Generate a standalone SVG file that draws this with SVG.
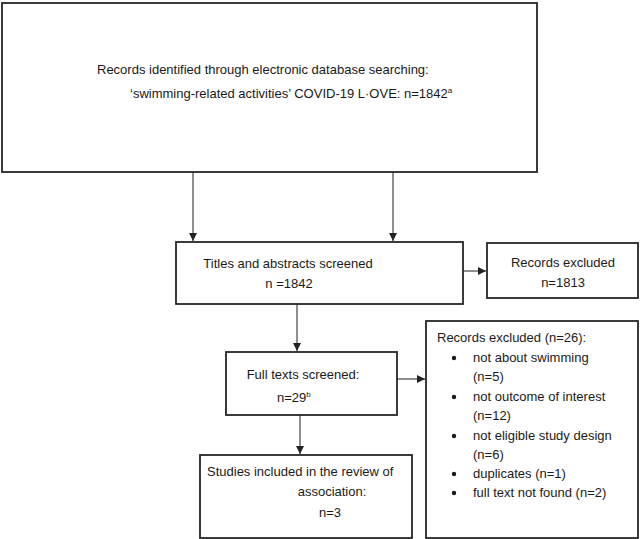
<svg xmlns="http://www.w3.org/2000/svg" width="640" height="539" viewBox="0 0 640 539">
<style>
.box{fill:#fff;stroke:#262626;stroke-width:1.8}
.t{font-family:"Liberation Sans",Arial,sans-serif;font-size:13px;fill:#1a1a1a}
.c{text-anchor:middle}
.sup{font-size:8px}
.ln{stroke:#444;stroke-width:1.2;fill:none}
</style>
<defs>
<marker id="ah" viewBox="0 0 10 10" refX="10" refY="5" markerWidth="8" markerHeight="8" markerUnits="userSpaceOnUse" orient="auto">
<path d="M0,0 L10,5 L0,10 z" fill="#222"/>
</marker>
</defs>
<g id="connectors">
<line class="ln" x1="193" y1="172" x2="193" y2="241" marker-end="url(#ah)"/>
<line class="ln" x1="393" y1="172" x2="393" y2="241" marker-end="url(#ah)"/>
<line class="ln" x1="463" y1="271" x2="486" y2="271" marker-end="url(#ah)"/>
<line class="ln" x1="297" y1="304" x2="297" y2="351" marker-end="url(#ah)"/>
<line class="ln" x1="300" y1="415" x2="300" y2="454" marker-end="url(#ah)"/>
<line class="ln" x1="397" y1="379" x2="425" y2="379" marker-end="url(#ah)"/>
</g>
<g id="records-identified">
<rect class="box" x="2" y="3" width="535" height="169"/>
<text class="t" x="97" y="74">Records identified through electronic database searching:</text>
<text class="t" x="130" y="98">‘swimming-related activities’ COVID-19 L·OVE: n=1842<tspan class="sup" dy="-5">a</tspan></text>
</g>
<g id="titles-abstracts">
<rect class="box" x="176" y="242" width="287" height="62"/>
<text class="t" x="288" y="268" text-anchor="middle">Titles and abstracts screened</text>
<text class="t" x="289" y="288" text-anchor="middle">n =1842</text>
</g>
<g id="records-excluded-1">
<rect class="box" x="487" y="243" width="151" height="55"/>
<text class="t c" x="563" y="267">Records excluded</text>
<text class="t c" x="563" y="287">n=1813</text>
</g>
<g id="full-texts">
<rect class="box" x="226" y="352" width="171" height="63"/>
<text class="t c" x="303" y="379">Full texts screened:</text>
<text class="t" x="277" y="402">n=29<tspan class="sup" dy="-5">b</tspan></text>
</g>
<g id="studies-included">
<rect class="box" x="200" y="455" width="212" height="83"/>
<text class="t" x="207" y="476">Studies included in the review of</text>
<text class="t c" x="332" y="496">association:</text>
<text class="t c" x="330" y="517">n=3</text>
</g>
<g id="records-excluded-2">
<rect class="box" x="426" y="321" width="212" height="217"/>
<text class="t" x="437" y="342">Records excluded (n=26):</text>
<g fill="#1a1a1a">
<circle cx="454" cy="358" r="2.2"/>
<circle cx="454" cy="397" r="2.2"/>
<circle cx="454" cy="436" r="2.2"/>
<circle cx="454" cy="474" r="2.2"/>
<circle cx="454" cy="493" r="2.2"/>
</g>
<text class="t" x="473" y="362">not about swimming</text>
<text class="t" x="473" y="381">(n=5)</text>
<text class="t" x="473" y="401">not outcome of interest</text>
<text class="t" x="473" y="420">(n=12)</text>
<text class="t" x="473" y="440">not eligible study design</text>
<text class="t" x="473" y="459">(n=6)</text>
<text class="t" x="473" y="478">duplicates (n=1)</text>
<text class="t" x="473" y="497">full text not found (n=2)</text>
</g>
</svg>
